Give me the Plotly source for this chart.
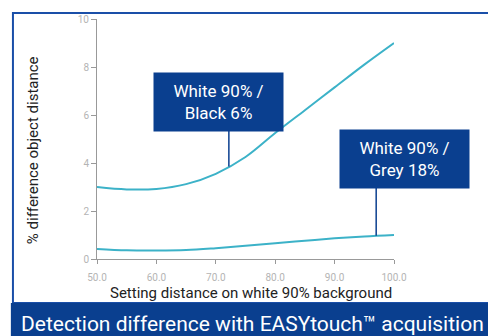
import numpy as np
import plotly.graph_objects as go

# data
distance = [50, 55, 60, 65, 70, 75, 80, 85, 90, 95, 100]
black_6 = [3.0, 2.9, 2.92, 3.12, 3.55, 4.25, 5.25, 6.2, 7.15, 8.1, 9.0]
grey_18 = [0.42, 0.36, 0.35, 0.37, 0.45, 0.55, 0.66, 0.76, 0.86, 0.94, 1.0]

x_ticks = [50, 60, 70, 80, 90, 100]
x_tick_labels = ["50.0", "60.0", "70.0", "80.0", "90.0", "100.0"]
y_ticks = [0, 2, 4, 6, 8, 10]

callout_text = ["White 90% /<br>Black 6%", "White 90% /<br>Grey 18%"]
callout_at = [72.2, 97.0]  # x where each callout touches its curve

LINE = "#3cb2c8"
NAVY = "#0a3f8f"
FRAME = "#1a4fa8"
TICK = "#b4b4b4"
FONT = "Roboto"

fig = go.Figure()
for ys in (black_6, grey_18):
    fig.add_trace(go.Scatter(
        x=distance, y=ys, mode="lines",
        line=dict(color=LINE, width=2, shape="spline", smoothing=1.0),
        hoverinfo="skip", showlegend=False,
    ))

# outer frame (only top and left edges visible) and bottom banner
fig.add_shape(type="rect", xref="paper", yref="paper",
              x0=-0.283, x1=1.4, y0=-0.183, y1=1.025,
              line=dict(color=FRAME, width=2), layer="below")
fig.add_shape(type="rect", xref="paper", yref="paper",
              x0=-0.29, x1=1.4, y0=-0.35, y1=-0.183,
              fillcolor=NAVY, line=dict(width=0))
fig.add_annotation(xref="paper", yref="paper", x=-0.262, y=-0.27,
                   xanchor="left", yanchor="middle", showarrow=False,
                   text="Detection difference with EASYtouch™ acquisition",
                   font=dict(family=FONT, size=21, color="white"))

# callouts: box + vertical leader line down to the curve
box_centre = [(0.409, 0.654), (1.037, 0.417)]   # paper coords
box_bottom = [5.33, 2.96]                         # data y of box bottom edge
for txt, xc, (bx, by), yb, ys in zip(callout_text, callout_at, box_centre,
                                     box_bottom, (black_6, grey_18)):
    yc = float(np.interp(xc, distance, ys))
    fig.add_shape(type="line", xref="x", yref="y", x0=xc, x1=xc, y0=yc, y1=yb,
                  line=dict(color=NAVY, width=1.5))
    fig.add_annotation(xref="paper", yref="paper", x=bx, y=by,
                       xanchor="center", yanchor="middle", showarrow=False,
                       text=txt, align="center", width=129, height=58,
                       bgcolor=NAVY, borderpad=0,
                       font=dict(family=FONT, size=17, color="white"))

# axis titles
fig.add_annotation(xref="paper", yref="paper", x=0.519, y=-0.142,
                   showarrow=False, yanchor="middle",
                   text="Setting distance on white 90% background",
                   font=dict(family=FONT, size=15, color="#222222"))
fig.add_annotation(xref="paper", yref="paper", x=-0.215, y=0.454,
                   showarrow=False, textangle=-90, xanchor="center",
                   text="% difference object distance",
                   font=dict(family=FONT, size=15, color="#222222"))

fig.update_xaxes(range=[50, 100], tickvals=x_ticks, ticktext=x_tick_labels,
                 showgrid=False, zeroline=False, showline=True,
                 linecolor="#999999", linewidth=1, ticks="outside",
                 ticklen=4, tickcolor="#999999", ticklabelstandoff=5,
                 tickfont=dict(family=FONT, size=10, color=TICK))
fig.update_yaxes(range=[0, 10], tickvals=y_ticks, showgrid=False,
                 zeroline=False, showline=True, linecolor="#999999",
                 linewidth=1, ticks="outside", ticklen=5,
                 tickcolor="#999999",
                 tickfont=dict(family=FONT, size=10, color=TICK))

fig.update_layout(
    width=488, height=336,
    margin=dict(l=97, r=94, t=19, b=77),
    paper_bgcolor="white", plot_bgcolor="white",
)

# page body has a default 8px margin; drop it so the figure fills the window
fig.write_html("out.html", config={"displayModeBar": False},
               post_script="document.body.style.margin='0';")
